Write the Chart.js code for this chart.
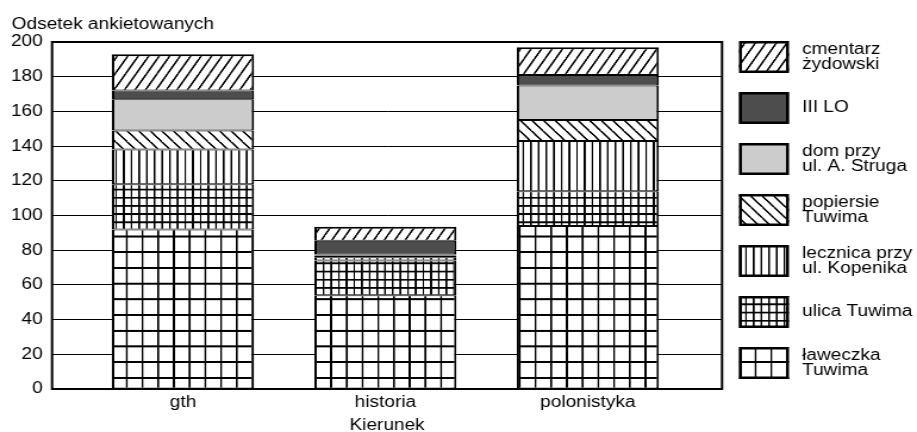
<!DOCTYPE html>
<html><head><meta charset="utf-8">
<script src="https://cdn.jsdelivr.net/npm/chart.js@4.4.1/dist/chart.umd.min.js"></script>
<style>
html,body{margin:0;padding:0;background:#fff;overflow:hidden;}
#wrap{width:917px;height:432px;overflow:hidden;}
#c{display:block;transform:scale(1.190909,1);transform-origin:0 0;}
</style></head>
<body><div id="wrap"><canvas id="c" width="770" height="432" style="width:770px;height:432px"></canvas></div>
<script>
// ---- data ----
const categories = ['gth', 'historia', 'polonistyka'];
const xAxisTitle = 'Kierunek';
const yAxisTitle = 'Odsetek ankietowanych';
const yTickValues = [0, 20, 40, 60, 80, 100, 120, 140, 160, 180, 200];
// series, bottom of the stack first
const seriesLabels = [
  ['ławeczka', 'Tuwima'],
  ['ulica Tuwima'],
  ['lecznica przy', 'ul. Kopenika'],
  ['popiersie', 'Tuwima'],
  ['dom przy', 'ul. A. Struga'],
  ['III LO'],
  ['cmentarz', 'żydowski']
];
const laweczkaTuwima       = [92, 54, 94];
const ulicaTuwima          = [26, 20, 20];
const lecznicaPrzyKopenika = [20, 2, 29];
const popiersieTuwima      = [11, 1, 12];
const domPrzyStruga        = [18, 0.5, 20];
const iiiLO                = [5, 8, 6];
const cmentarzZydowski     = [21, 8, 16];
const seriesValues = [laweczkaTuwima, ulicaTuwima, lecznicaPrzyKopenika, popiersieTuwima, domPrzyStruga, iiiLO, cmentarzZydowski];

// ---- patterns ----
const canvas = document.getElementById('c');
const mainCtx = canvas.getContext('2d');
const SS = 2;
function makePattern(w, h, draw, bg) {
  const c = document.createElement('canvas');
  const W = Math.round(w * SS), H = Math.round(h * SS);
  c.width = W; c.height = H;
  const g = c.getContext('2d');
  g.fillStyle = bg || '#fff';
  g.fillRect(0, 0, W, H);
  g.scale(W / w, H / h);
  g.strokeStyle = '#000';
  g.fillStyle = '#000';
  draw(g, w, h);
  const p = mainCtx.createPattern(c, 'repeat');
  p.setTransform(new DOMMatrix().scale(w / W, h / H));
  return p;
}
function gridPat(vx, hy, lwv, lwh) {
  return makePattern(vx, hy, (g, w, h) => {
    g.fillRect(0, 0, lwv, h);
    g.fillRect(0, 0, w, lwh);
  });
}
function vertPat(vx, h, lw) {
  return makePattern(vx, h, (g, w, hh) => { g.fillRect(0, 0, lw, hh); });
}
function diagPat(w, h, lw, forward) {
  return makePattern(w, h, (g, ww, hh) => {
    g.lineWidth = lw;
    g.beginPath();
    for (let k = -1; k <= 1; k++) {
      if (forward) { g.moveTo(k * ww, hh); g.lineTo(k * ww + ww, 0); }
      else { g.moveTo(k * ww, 0); g.lineTo(k * ww + ww, hh); }
    }
    g.stroke();
  });
}
const fills = [
  gridPat(13.2, 15.7, 1.6, 2),
  gridPat(6.45, 8.2, 1.5, 1.8),
  vertPat(6.45, 8, 1.5),
  diagPat(9.7, 10.9, 1.5, false),
  '#cccccc',
  '#4d4d4d',
  diagPat(8.8, 14.7, 1.5, true)
];

const datasets = seriesValues.map((vals, k) => ({
  label: seriesLabels[k].join(' '),
  data: vals.map((v, i) => ({ x: i, y: v })),
  backgroundColor: fills[k],
  borderColor: '#000',
  borderWidth: { left: 2, right: 2, bottom: 1, top: k === seriesValues.length - 1 ? 2 : 1 },
  borderSkipped: false,
  inflateAmount: 0,
  categoryPercentage: 1,
  barPercentage: 0.702
}));

const FONT = '"Liberation Sans", Arial, Helvetica, sans-serif';
Chart.defaults.font.family = FONT;
Chart.defaults.font.size = 16;
Chart.defaults.color = '#000';

const framePlugin = {
  id: 'frame',
  afterDatasetsDraw(chart) {
    const { ctx, chartArea: a } = chart;
    ctx.save();
    ctx.strokeStyle = '#000';
    ctx.lineWidth = 2;
    ctx.strokeRect(a.left, a.top, a.right - a.left, a.bottom - a.top);
    ctx.restore();
  }
};
const textPlugin = {
  id: 'texts',
  afterDraw(chart) {
    const ctx = chart.ctx;
    ctx.save();
    ctx.fillStyle = '#000';
    ctx.font = '16px ' + FONT;
    ctx.textAlign = 'left';
    ctx.textBaseline = 'alphabetic';
    ctx.fillText(yAxisTitle, 9.8, 29);
    // legend
    const ds = chart.data.datasets;
    const n = ds.length;
    const bx = 620.5, bw = 42, bh = 32, y0 = 41, step = 51, tx = 673.5, lh = 15;
    for (let k = 0; k < n; k++) {
      const d = ds[n - 1 - k];
      const lines = seriesLabels[n - 1 - k];
      const y = y0 + k * step;
      ctx.fillStyle = d.backgroundColor;
      ctx.fillRect(bx, y, bw, bh);
      ctx.lineWidth = 2.5;
      ctx.strokeStyle = '#000';
      ctx.strokeRect(bx + 1.25, y + 1.25, bw - 2.5, bh - 2.5);
      ctx.fillStyle = '#000';
      ctx.textBaseline = 'middle';
      const cy = y + bh / 2;
      lines.forEach((t, j) => {
        ctx.fillText(t, tx, cy + (j - (lines.length - 1) / 2) * lh);
      });
    }
    ctx.restore();
  }
};

new Chart(canvas, {
  type: 'bar',
  data: { datasets },
  options: {
    responsive: false,
    animation: false,
    devicePixelRatio: 1,
    layout: { padding: { left: 0, right: 163.7, top: 42, bottom: 0 } },
    plugins: { legend: { display: false }, tooltip: { enabled: false }, title: { display: false } },
    scales: {
      x: {
        type: 'linear',
        stacked: true,
        offset: false,
        min: -0.647,
        max: 2.663,
        afterBuildTicks: s => { s.ticks = categories.map((_, i) => ({ value: i })); },
        afterFit: s => { s.height = 43; },
        grid: { display: false, drawTicks: false, offset: false },
        border: { display: false },
        ticks: {
          callback: v => categories[v],
          autoSkip: false, maxRotation: 0, padding: 4,
          font: { size: 16 }, color: '#000'
        },
        title: { display: true, text: xAxisTitle, font: { size: 16, lineHeight: 1 }, padding: { top: 0, bottom: -1.5 }, color: '#000' }
      },
      y: {
        stacked: true,
        min: 0, max: 200,
        afterBuildTicks: s => { s.ticks = yTickValues.map(v => ({ value: v })); },
        afterFit: s => { s.width = 43.7; },
        grid: { color: '#000', lineWidth: 1, drawTicks: false },
        border: { display: false },
        ticks: { padding: 7.8, font: { size: 16 }, color: '#000' }
      }
    }
  },
  plugins: [framePlugin, textPlugin]
});
</script>
</body></html>
